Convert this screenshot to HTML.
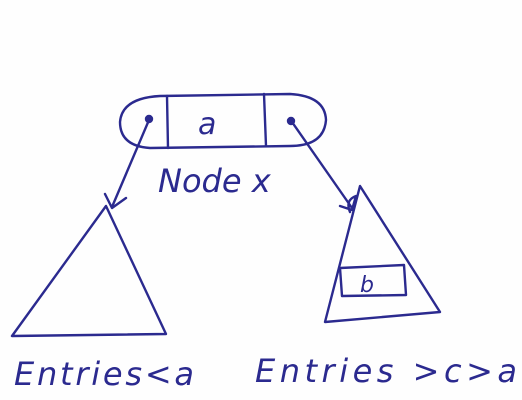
<!DOCTYPE html>
<html>
<head>
<meta charset="utf-8">
<style>
html,body{margin:0;padding:0;background:#fff;}
svg{display:block;}
text{font-family:"DejaVu Sans","Liberation Sans",sans-serif;fill:#2b2a8f;}
</style>
</head>
<body>
<svg width="522" height="400" viewBox="0 0 522 400">
  <rect x="0" y="0" width="522" height="400" fill="#fefefe"/>
  <g stroke="#2b2a8f" stroke-width="2.4" fill="none" stroke-linecap="round" stroke-linejoin="round">
    <path d="M160 96 L290 94 Q325 96 326 120 Q324 146 290 146 L150 148 Q120 146 120 122 Q122 98 160 96 Z"/>
    <path d="M167 96 L168 148"/>
    <path d="M264 94 L266 146"/>
    <circle cx="149" cy="119" r="3" fill="#2b2a8f"/>
    <circle cx="291" cy="121" r="3" fill="#2b2a8f"/>
    <path d="M149 120 L112 207 M105 194 L112 208 L126 198"/>
    <path d="M292 122 L352 208 M340 206 L352 210 L356 196 Q345 200 350 212"/>
    <path d="M106 206 L12 336 L166 334 Z"/>
    <path d="M360 186 L325 322 L440 312 Z"/>
    <path d="M340 268 L404 265 L406 295 L342 296 Z"/>
  </g>
  <text x="198" y="134" font-size="30" font-style="italic">a</text>
  <text x="360" y="292" font-size="22" font-style="italic">b</text>
  <text x="158" y="192" font-size="32" font-style="italic">Node x</text>
  <text x="14" y="385" font-size="32" font-style="italic" textLength="180">Entries&lt;a</text>
  <text x="255" y="382" font-size="32" font-style="italic" textLength="262">Entries &gt;c&gt;a</text>
</svg>
</body>
</html>
